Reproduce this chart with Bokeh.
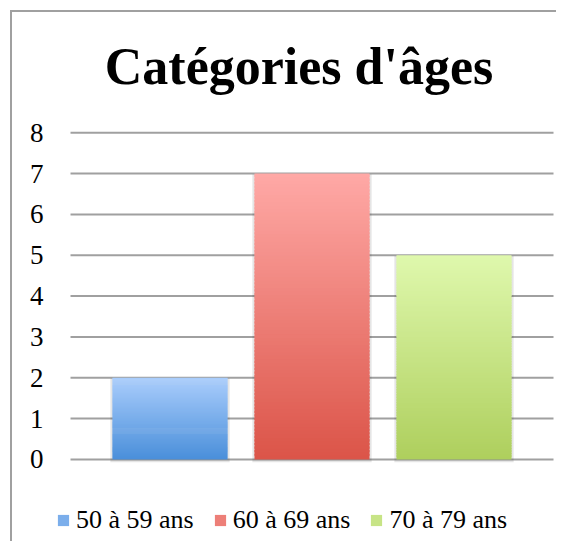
from bokeh.plotting import figure
from bokeh.models import Range1d, Legend, LegendItem, ColumnDataSource, Label
from bokeh.embed import file_html
from bokeh.resources import INLINE

title_text = "Catégories d'âges"
categories = ["50 à 59 ans", "60 à 69 ans", "70 à 79 ans"]
values = [2, 7, 5]
bottom_colors = ["#4A8FDA", "#DB5448", "#AECF5D"]
top_colors = ["#AACDFC", "#FFA9A6", "#DFF8AD"]
y_ticks = [0, 1, 2, 3, 4, 5, 6, 7, 8]

FONT = "Liberation Serif"


def hex2rgb(h):
    h = h.lstrip("#")
    return tuple(int(h[k:k + 2], 16) for k in (0, 2, 4))


def mix(c1, c2, t):
    a, b = hex2rgb(c1), hex2rgb(c2)
    return "#%02x%02x%02x" % tuple(int(round(a[k] + (b[k] - a[k]) * t)) for k in range(3))


positions = list(range(len(categories)))  # category slots on the x scale
BAND = 0.7007  # half extent of the plot band around the outer categories

# gradient slices for each bar (computed from the values)
N = 80
xs, bots, tops, cols = [], [], [], []
legend_idx = []
for pos, v, cb, ct in zip(positions, values, bottom_colors, top_colors):
    for j in range(N):
        xs.append(pos)
        bots.append(v * j / N)
        tops.append(min(v, v * (j + 1.6) / N))
        cols.append(mix(cb, ct, (j + 0.5) / N))
        if j == N // 2:
            legend_idx.append(len(xs) - 1)

src = ColumnDataSource(dict(x=xs, bottom=bots, top=tops, color=cols))

p = figure(
    x_range=Range1d(-0.8275, 2.7218),
    y_range=Range1d(-2.06, 10.944),
    width=546, height=531,
    output_backend="svg", toolbar_location=None,
    min_border_left=40, min_border_right=2, min_border_top=0, min_border_bottom=0,
)
p.styles = {
    "margin-left": "10px", "margin-top": "10px",
    "border-top": "2px solid #A0A0A0", "border-left": "2px solid #A0A0A0",
}
p.outline_line_color = None
p.background_fill_color = "white"
p.border_fill_color = "white"
p.xgrid.visible = False
p.ygrid.visible = False

# horizontal gridlines over the category band
n = len(y_ticks)
p.segment(x0=[positions[0] - BAND] * n, x1=[positions[-1] + BAND] * n,
          y0=y_ticks, y1=y_ticks, line_color="#A0A0A0", line_width=2)

# soft shadow behind the bars
p.vbar(x=positions, top=[v - 0.02 for v in values], bottom=-0.07, width=0.84,
       fill_color="#000000", fill_alpha=0.10, line_color=None)

bars = p.vbar(x="x", top="top", bottom="bottom", width=0.81, source=src,
              fill_color="color", line_color=None)

p.xaxis.visible = False

ya = p.yaxis[0]
ya.ticker = y_ticks
ya.axis_line_color = None
ya.major_tick_line_color = None
ya.minor_tick_line_color = None
ya.major_tick_out = 0
ya.major_tick_in = 0
ya.major_label_standoff = 9
ya.major_label_text_font = FONT
ya.major_label_text_font_size = "27px"
ya.major_label_text_color = "black"

title = Label(
    x=246.5, y=477, x_units="screen", y_units="screen",
    text=title_text, text_align="center", text_baseline="alphabetic",
    text_font=FONT, text_font_size="52px", text_font_style="bold", text_color="black",
)
p.add_layout(title)

legend = Legend(
    items=[LegendItem(label=c, renderers=[bars], index=i) for c, i in zip(categories, legend_idx)],
    orientation="horizontal", location=(4, 8),
    padding=0, margin=0, spacing=19,
    glyph_width=14, glyph_height=14, label_standoff=6,
    label_text_font=FONT, label_text_font_size="26px", label_text_color="black",
    border_line_color=None, background_fill_alpha=0,
)
p.add_layout(legend, "center")

open("out.html", "w").write(file_html(p, INLINE))
